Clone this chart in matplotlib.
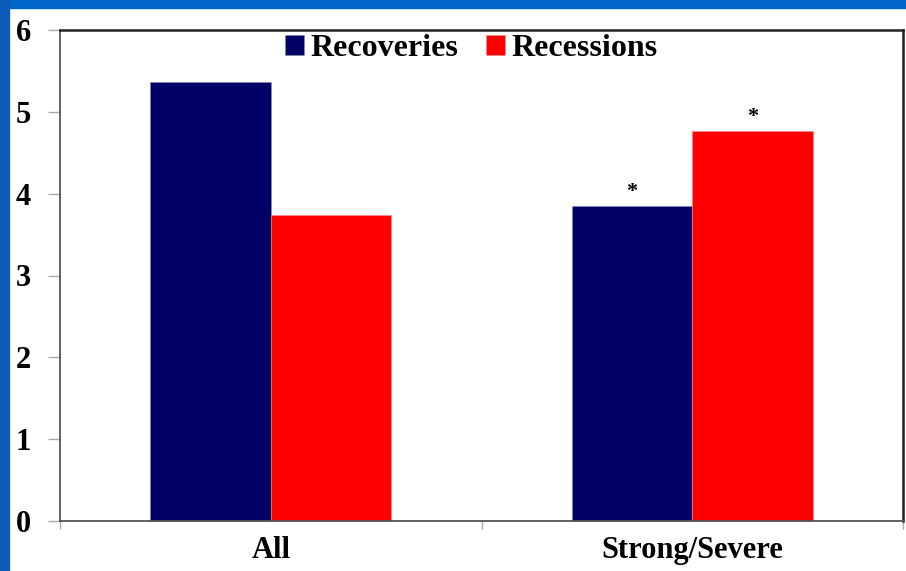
import matplotlib.pyplot as plt
import matplotlib.patches as mpatches
import numpy as np

# ── data ────────────────────────────────────────────
categories = ["All", "Strong/Severe"]
recoveries = [5.37, 3.85]
recessions = [3.74, 4.76]
rec_star   = [False, True]
res_star   = [False, True]

navy = "#000066"
red  = "#FF0000"

plt.rcParams["font.family"] = ["Liberation Serif", "DejaVu Serif"]
plt.rcParams["font.weight"] = "bold"

fig = plt.figure(figsize=(9.06, 5.71), dpi=100, facecolor="white")

# slide frame (blue strips top/left)
fig.patches.append(mpatches.Rectangle((0, 1 - 8 / 571), 1, 8 / 571,
                                      transform=fig.transFigure, color="#0066CC", zorder=0))
fig.patches.append(mpatches.Rectangle((0, 0), 9 / 906, 1,
                                      transform=fig.transFigure, color="#0a5cb8", zorder=0))

ax = fig.add_axes([60 / 906, 50 / 571, 843 / 906, 491 / 571])

x = np.arange(len(categories))
w = 0.2857
b1 = ax.bar(x - w / 2, recoveries, w, color=navy, edgecolor="#8888aa", linewidth=0.4,
            label="Recoveries")
b2 = ax.bar(x + w / 2, recessions, w, color=red, edgecolor="#ff8888", linewidth=0.4,
            label="Recessions")

for bars, stars in ((b1, rec_star), (b2, res_star)):
    for bar, s in zip(bars, stars):
        if s:
            ax.text(bar.get_x() + bar.get_width() / 2, bar.get_height() + 0.05, "*",
                    ha="center", va="bottom", fontsize=16, fontweight="bold")

ax.set_xlim(-0.5, 1.5)
ax.set_ylim(0, 6)
ax.set_yticks(range(0, 7))
ax.tick_params(axis="y", length=9, width=1, color="#aaaaaa", pad=12, labelsize=22)

ax.set_xticks(x)
ax.set_xticklabels(categories, fontsize=22)
ax.set_xticks([-0.5, 0.5, 1.5], minor=True)
ax.tick_params(axis="x", which="major", length=0, pad=11)
ax.tick_params(axis="x", which="minor", length=6, width=1, color="#aaaaaa")

for side in ("left", "bottom"):
    ax.spines[side].set_color("#555555")
    ax.spines[side].set_linewidth(1.3)
for side in ("top", "right"):
    ax.spines[side].set_color("#222222")
    ax.spines[side].set_linewidth(1.8)

ax.legend(loc="upper center", bbox_to_anchor=(0.488, 1.05), ncol=2, frameon=False,
          fontsize=23, handlelength=0.6, handleheight=0.6, handletextpad=0.2,
          columnspacing=0.85)

plt.savefig("out.png", dpi=100, facecolor=fig.get_facecolor())
